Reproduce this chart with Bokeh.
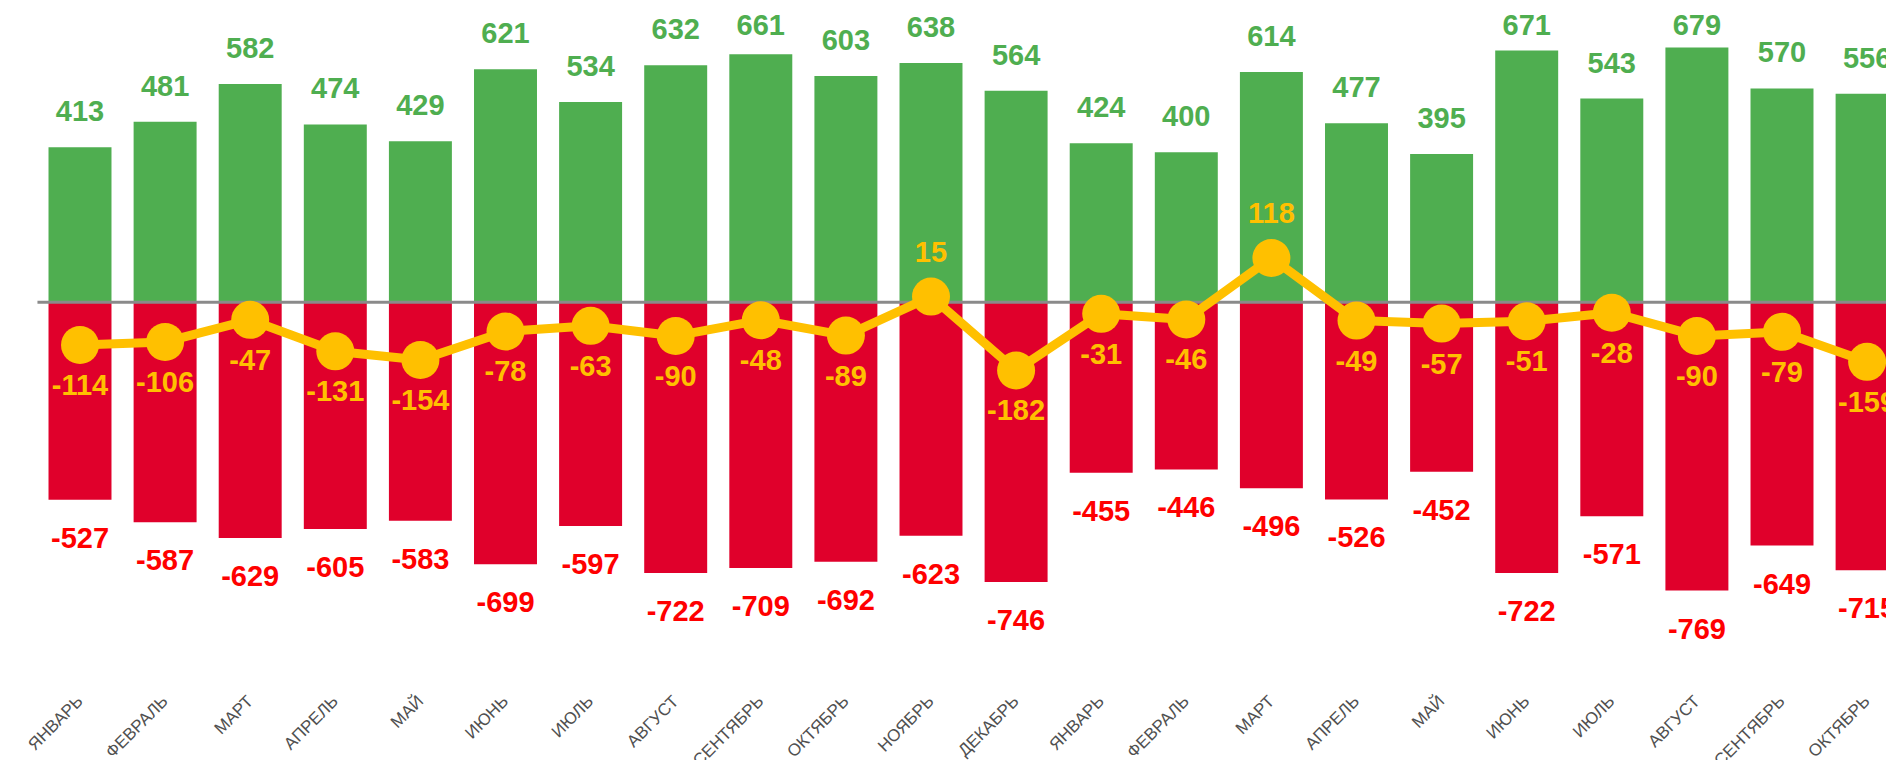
import math
from bokeh.plotting import figure
from bokeh.models import ColumnDataSource, Range1d
from bokeh.core.properties import value
from bokeh.embed import file_html
from bokeh.resources import INLINE

months = ["ЯНВАРЬ", "ФЕВРАЛЬ", "МАРТ", "АПРЕЛЬ", "МАЙ", "ИЮНЬ", "ИЮЛЬ", "АВГУСТ",
          "СЕНТЯБРЬ", "ОКТЯБРЬ", "НОЯБРЬ", "ДЕКАБРЬ",
          "ЯНВАРЬ", "ФЕВРАЛЬ", "МАРТ", "АПРЕЛЬ", "МАЙ", "ИЮНЬ", "ИЮЛЬ", "АВГУСТ",
          "СЕНТЯБРЬ", "ОКТЯБРЬ"]
income = [413, 481, 582, 474, 429, 621, 534, 632, 661, 603, 638, 564,
          424, 400, 614, 477, 395, 671, 543, 679, 570, 556]
outflow = [-527, -587, -629, -605, -583, -699, -597, -722, -709, -692, -623, -746,
           -455, -446, -496, -526, -452, -722, -571, -769, -649, -715]
net = [-114, -106, -47, -131, -154, -78, -63, -90, -48, -89, 15, -182,
       -31, -46, 118, -49, -57, -51, -28, -90, -79, -159]

GREEN = "#4FAE50"
RED_BAR = "#E0002B"
RED_TXT = "#FF0000"
YELLOW = "#FFC000"
GREY = "#8A8A8A"
FONT = "Liberation Sans"

W, H = 1886, 760
px_x = 85.1     # pixels per category
px_y = 0.375    # pixels per unit
x0 = -79.5 / px_x
y1 = 301.7 / px_y

# labels stay inside the plot area (like the original chart)
top_limit = y1 - 24 / px_y
inc_label_y = [min(v + 36 / px_y, top_limit) for v in income]

x = list(range(len(months)))
src = ColumnDataSource(dict(
    x=x, month=months, income=income, outflow=outflow, net=net,
    inc_y=inc_label_y,
    inc_lbl=[str(v) for v in income],
    out_lbl=[str(v) for v in outflow],
))

p = figure(width=W, height=H, output_backend="svg", toolbar_location=None,
           x_range=Range1d(x0, x0 + W / px_x),
           y_range=Range1d(y1 - H / px_y, y1),
           min_border=0, min_border_left=0, min_border_right=0,
           min_border_top=0, min_border_bottom=0)
p.outline_line_color = None
p.xgrid.visible = False
p.ygrid.visible = False
p.xaxis.visible = False
p.yaxis.visible = False
p.background_fill_color = "white"
p.border_fill_color = "white"

p.vbar(x="x", top="income", bottom=0, width=0.74, source=src,
       fill_color=GREEN, line_color=None)
p.vbar(x="x", top=0, bottom="outflow", width=0.74, source=src,
       fill_color=RED_BAR, line_color=None)

# zero baseline
n = len(months)
p.line(x=[-0.5, n + 1], y=[0, 0], line_color=GREY, line_width=3)

# net line
p.line(x="x", y="net", source=src, line_color=YELLOW, line_width=9)
p.scatter(x="x", y="net", source=src, size=38, fill_color=YELLOW, line_color=None)

# labels
p.text(x="x", y="inc_y", text="inc_lbl", source=src,
       text_align="center", text_baseline="middle", text_color=GREEN,
       text_font=value(FONT), text_font_style="bold", text_font_size="29px")
p.text(x="x", y="outflow", text="out_lbl", source=src, y_offset=38,
       text_align="center", text_baseline="middle", text_color=RED_TXT,
       text_font=value(FONT), text_font_style="bold", text_font_size="29px")

neg_idx = [i for i, v in enumerate(net) if v < 0]
pos_idx = [i for i, v in enumerate(net) if v >= 0]
src_neg = ColumnDataSource(dict(x=[x[i] for i in neg_idx], y=[net[i] for i in neg_idx],
                                t=[str(net[i]) for i in neg_idx]))
src_pos = ColumnDataSource(dict(x=[x[i] for i in pos_idx], y=[net[i] for i in pos_idx],
                                t=[str(net[i]) for i in pos_idx]))
p.text(x="x", y="y", text="t", source=src_neg, y_offset=40,
       text_align="center", text_baseline="middle", text_color=YELLOW,
       text_font=value(FONT), text_font_style="bold", text_font_size="29px")
p.text(x="x", y="y", text="t", source=src_pos, y_offset=-45,
       text_align="center", text_baseline="middle", text_color=YELLOW,
       text_font=value(FONT), text_font_style="bold", text_font_size="29px")

# month labels (category axis labels)
label_y = y1 - 698 / px_y
p.text(x="x", y=label_y, text="month", source=src, angle=math.pi / 4,
       text_align="right", text_baseline="middle", text_color="#505050",
       text_font=value(FONT), text_font_size="17px")

open("out.html", "w").write(file_html(p, INLINE))
